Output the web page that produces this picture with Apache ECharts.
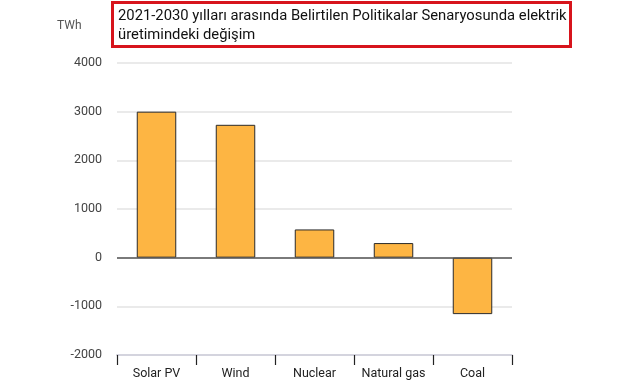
<!DOCTYPE html>
<html>
<head>
<meta charset="utf-8">
<script src="https://cdn.jsdelivr.net/npm/echarts@6/dist/echarts.min.js"></script>
<style>html,body{margin:0;padding:0;background:#fff;}#c{width:641px;height:380px;}</style>
</head>
<body>
<div id="c"></div>
<script>
var categories = ['Solar PV', 'Wind', 'Nuclear', 'Natural gas', 'Coal'];
var values = [3000, 2730, 580, 300, -1160];
var yTicks = [-2000, -1000, 0, 1000, 2000, 3000, 4000];
var titleLines = ['2021-2030 yılları arasında Belirtilen Politikalar Senaryosunda elektrik', 'üretimindeki değişim'];
var unitLabel = 'TWh';

var chart = echarts.init(document.getElementById('c'));
chart.setOption({
  animation: false,
  backgroundColor: '#fff',
  grid: { left: 117, right: 129, top: 63, bottom: 22 },
  graphic: [
    { type: 'rect', left: 111, top: 1, shape: { width: 458, height: 44 },
      style: { fill: '#fff', stroke: '#d7141c', lineWidth: 3 } },
    { type: 'text', left: 118, top: 7,
      style: { text: titleLines.join('\n'), font: '14.8px Roboto', fill: '#111', lineHeight: 19 } },
    { type: 'text', left: 57, top: 20,
      style: { text: unitLabel, font: '12px Roboto', fill: '#555' } }
  ],
  xAxis: {
    type: 'category',
    data: categories,
    axisLine: { onZero: false, lineStyle: { color: '#d4d4de', width: 2 } },
    axisTick: { show: true, length: 10, lineStyle: { color: '#222', width: 1.2 } },
    axisLabel: { color: '#222', fontSize: 12.5, fontFamily: 'Roboto', margin: 12, interval: 0 }
  },
  yAxis: {
    type: 'value',
    min: yTicks[0], max: yTicks[yTicks.length - 1], interval: 1000,
    axisLine: { show: false },
    axisTick: { show: false },
    axisLabel: { color: '#444', fontSize: 12.5, fontFamily: 'Roboto', margin: 15,
      formatter: function (v) { return String(v); } },
    splitLine: { lineStyle: { color: '#e3e3e3', width: 1.5 } }
  },
  series: [{
    type: 'bar',
    data: values,
    barWidth: '50%',
    itemStyle: { color: '#fdb543', borderColor: '#2a2a2a', borderWidth: 1 },
    markLine: {
      silent: true, symbol: 'none', label: { show: false },
      lineStyle: { color: '#555', width: 1.5, type: 'solid' },
      data: [{ yAxis: 0 }]
    }
  }]
});
</script>
</body>
</html>
